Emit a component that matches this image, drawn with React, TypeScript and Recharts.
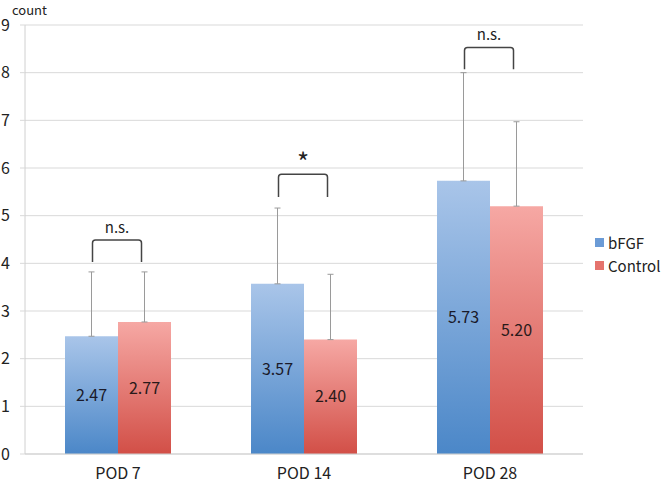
import React from "react";
import {
  BarChart,
  Bar,
  XAxis,
  YAxis,
  CartesianGrid,
  Legend,
  ErrorBar,
  LabelList,
  Label,
} from "recharts";

const categories = ["POD 7", "POD 14", "POD 28"];
const bfgf = [2.47, 3.57, 5.73];
const control = [2.77, 2.4, 5.2];
const bfgfErr = [1.35, 1.59, 2.27];
const controlErr = [1.05, 1.37, 1.77];
const sigLabels = ["n.s.", "*", "n.s."];
const bracketLow = [4.03, 5.39, 8.07];
const bracketHigh = [4.49, 5.87, 8.53];
const yTicks = [0, 1, 2, 3, 4, 5, 6, 7, 8, 9];

const data = categories.map((name, i) => ({
  name,
  bFGF: bfgf[i],
  Control: control[i],
  bErr: [0, bfgfErr[i]],
  cErr: [0, controlErr[i]],
}));

const FONT = '"Noto Sans CJK JP", "Noto Sans", sans-serif';

const legendItems = [
  { name: "bFGF", color: "#6b9bd6" },
  { name: "Control", color: "#e5736d" },
];

// significance bracket drawn over each pair, using the Control bar geometry
const Bracket = (props: any) => {
  const vb = props.viewBox || props;
  const { x, y, width, height } = vb;
  const i = props.index ?? control.indexOf(props.value);
  if (i < 0 || !height) return null;
  const ppu = height / control[i];
  const base = y + height;
  const yTop = base - bracketHigh[i] * ppu;
  const yBot = base - bracketLow[i] * ppu;
  const x1 = x - width / 2 + 1;
  const x2 = x + width / 2 - 3;
  const r = 3;
  const d = `M${x1},${yBot} L${x1},${yTop + r} Q${x1},${yTop} ${x1 + r},${yTop} L${x2 - r},${yTop} Q${x2},${yTop} ${x2},${yTop + r} L${x2},${yBot}`;
  const star = sigLabels[i] === "*";
  return (
    <g>
      <path d={d} fill="none" stroke="#444" strokeWidth={1.5} />
      <text
        x={(x1 + x2) / 2}
        y={star ? yTop - 2 : yTop - 7}
        textAnchor="middle"
        fontFamily={FONT}
        fontSize={star ? 26 : 15}
        fill="#222"
      >
        {sigLabels[i]}
      </text>
    </g>
  );
};

export default function App() {
  return (
    <div style={{ position: "absolute", left: 0, top: 0, background: "#fff" }}>
      <BarChart
        width={666}
        height={485}
        data={data}
        margin={{ top: 25, right: 83, bottom: 0, left: 0 }}
        barCategoryGap={40}
        barGap={0}
      >
        <defs>
          <linearGradient id="gBlue" x1="0" y1="0" x2="0" y2="1">
            <stop offset="0%" stopColor="#a9c5e9" />
            <stop offset="100%" stopColor="#4b87c8" />
          </linearGradient>
          <linearGradient id="gRed" x1="0" y1="0" x2="0" y2="1">
            <stop offset="0%" stopColor="#f6a8a4" />
            <stop offset="100%" stopColor="#d24f47" />
          </linearGradient>
        </defs>
        <CartesianGrid vertical={false} stroke="#d9d9d9" />
        <XAxis
          dataKey="name"
          height={31}
          axisLine={{ stroke: "#d0d0d0" }}
          tickLine={false}
          tickSize={0}
          tickMargin={14}
          tick={{ fontFamily: FONT, fontSize: 16, fill: "#222" }}
        />
        <YAxis
          width={25}
          domain={[0, 9]}
          ticks={yTicks}
          interval={0}
          axisLine={{ stroke: "#d0d0d0" }}
          tickLine={{ stroke: "#d9d9d9" }}
          tickSize={5}
          tickMargin={10}
          tick={{ fontFamily: FONT, fontSize: 16, fill: "#222" }}
        >
          <Label
            content={() => (
              <text x={12} y={15} fontFamily={FONT} fontSize={13} fill="#222">
                count
              </text>
            )}
          />
        </YAxis>
        <Legend
          layout="vertical"
          align="center"
          verticalAlign="middle"
          wrapperStyle={{ left: 595, top: 231, width: 71 }}
          content={() => (
            <div style={{ fontFamily: FONT, fontSize: 15, color: "#222", lineHeight: "23px" }}>
              {legendItems.map((s) => (
                <div key={s.name} style={{ display: "flex", alignItems: "center" }}>
                  <span
                    style={{
                      display: "inline-block",
                      width: 9,
                      height: 9,
                      background: s.color,
                      marginRight: 4,
                    }}
                  />
                  {s.name}
                </div>
              ))}
            </div>
          )}
        />
        <Bar dataKey="bFGF" fill="url(#gBlue)" isAnimationActive={false}>
          <ErrorBar dataKey="bErr" direction="y" width={3} stroke="#9a9a9a" strokeWidth={1} />
          <LabelList
            dataKey="bFGF"
            position="center"
            formatter={(v: any) => Number(v).toFixed(2)}
            fontFamily={FONT}
            fontSize={16}
            fill="#1a1a2a"
          />
        </Bar>
        <Bar dataKey="Control" fill="url(#gRed)" isAnimationActive={false}>
          <ErrorBar dataKey="cErr" direction="y" width={3} stroke="#9a9a9a" strokeWidth={1} />
          <LabelList
            dataKey="Control"
            position="center"
            formatter={(v: any) => Number(v).toFixed(2)}
            fontFamily={FONT}
            fontSize={16}
            fill="#2a1a1a"
          />
          <LabelList dataKey="Control" content={Bracket} />
        </Bar>
      </BarChart>
    </div>
  );
}
